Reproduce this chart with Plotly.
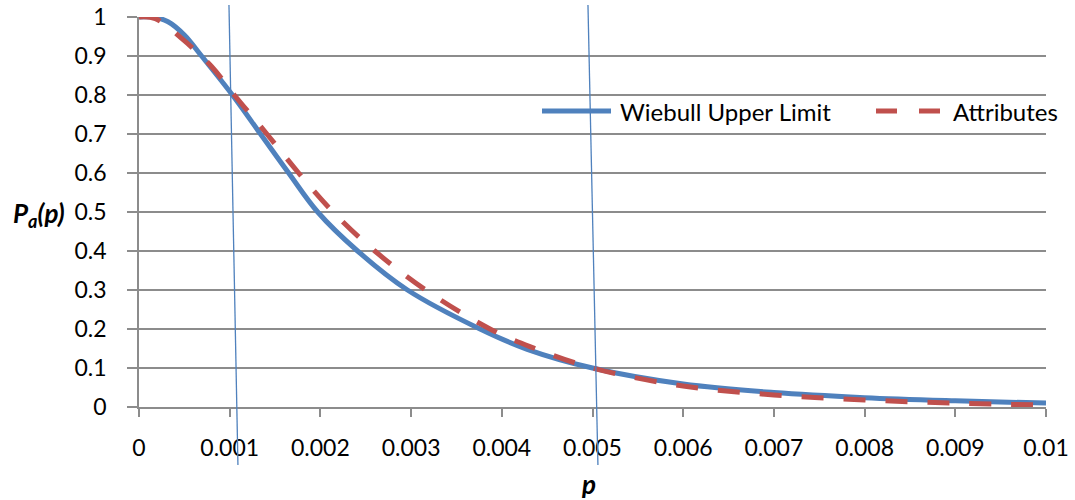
import plotly.graph_objects as go

# ---- data ----
weibull_p = [0, 0.00015, 0.00032, 0.0005, 0.00069, 0.00103, 0.00134, 0.00165, 0.00197,
             0.00241, 0.00296, 0.00376, 0.00428, 0.005, 0.006, 0.007, 0.008, 0.009, 0.01]
weibull_pa = [1.0, 1.0, 0.988, 0.954, 0.9, 0.8, 0.7, 0.6, 0.5,
              0.4, 0.3, 0.2, 0.148, 0.1, 0.059, 0.037, 0.024, 0.016, 0.01]

attr_p = [0, 0.00018, 0.00047, 0.0008, 0.00105, 0.00141, 0.00176, 0.00214, 0.0026,
          0.00316, 0.00387, 0.00431, 0.005, 0.006, 0.007, 0.008, 0.009, 0.01]
attr_pa = [1.0, 0.996, 0.945, 0.873, 0.8, 0.7, 0.6, 0.5, 0.4,
           0.3, 0.2, 0.155, 0.1, 0.054, 0.031, 0.018, 0.01, 0.005]

# reference (slightly slanted) vertical lines: x at top and bottom of their extent
ref_line_top_x = [0.000992, 0.00495]
ref_line_bottom_x = [0.001091, 0.00506]
ref_line_top_y = 1.031
ref_line_bottom_y = -0.149

x_tickvals = [0, 0.001, 0.002, 0.003, 0.004, 0.005, 0.006, 0.007, 0.008, 0.009, 0.01]
x_ticktext = ["0", "0.001", "0.002", "0.003", "0.004", "0.005", "0.006", "0.007", "0.008", "0.009", "0.01"]
y_tickvals = [0, 0.1, 0.2, 0.3, 0.4, 0.5, 0.6, 0.7, 0.8, 0.9, 1]
y_ticktext = ["0", "0.1", "0.2", "0.3", "0.4", "0.5", "0.6", "0.7", "0.8", "0.9", "1"]

series_names = ["Wiebull Upper Limit", "Attributes"]

# ---- style ----
BLUE = "#4F81BD"
RED = "#C0504D"
GRID = "#8C8C8C"
FONT = "Lato, 'Open Sans', sans-serif"

W, H = 1075, 500
PL, PR, PT, PB = 139, 1046, 17, 407  # target plot-area pixels
L, T, R, B = PL, PT, W - PR, H - PB
PW, PH = PR - PL, PB - PT


def px_x(px):
    return (px - PL) / PW


def px_y(py):
    return (PB - py) / PH


fig = go.Figure()
fig.add_trace(go.Scatter(x=weibull_p, y=weibull_pa, mode="lines", name=series_names[0],
                         line=dict(color=BLUE, width=5, shape="spline", smoothing=1.0),
                         showlegend=False))
fig.add_trace(go.Scatter(x=attr_p, y=attr_pa, mode="lines", name=series_names[1],
                         line=dict(color=RED, width=5, dash="22px,20px", shape="spline", smoothing=1.0),
                         showlegend=False))

shapes = []
for xt, xb in zip(ref_line_top_x, ref_line_bottom_x):
    shapes.append(dict(type="line", xref="x", yref="paper", x0=xt, y0=ref_line_top_y,
                       x1=xb, y1=ref_line_bottom_y, line=dict(color=BLUE, width=1.3), layer="above"))

# manual legend
leg_y = px_y(111)
shapes.append(dict(type="line", xref="paper", yref="paper", x0=px_x(542), x1=px_x(611),
                   y0=leg_y, y1=leg_y, line=dict(color=BLUE, width=5)))
shapes.append(dict(type="line", xref="paper", yref="paper", x0=px_x(876), x1=px_x(940),
                   y0=leg_y, y1=leg_y, line=dict(color=RED, width=5, dash="21px,22px")))

annotations = [
    dict(xref="paper", yref="paper", x=px_x(618), y=leg_y, text=series_names[0], showarrow=False,
         xanchor="left", yanchor="middle", font=dict(family=FONT, size=24, color="black")),
    dict(xref="paper", yref="paper", x=px_x(951), y=leg_y, text=series_names[1], showarrow=False,
         xanchor="left", yanchor="middle", font=dict(family=FONT, size=24, color="black")),
    dict(xref="paper", yref="paper", x=px_x(39), y=px_y(214), text="<b><i>P<sub>a</sub>(p)</i></b>",
         showarrow=False, xanchor="center", yanchor="middle", font=dict(family=FONT, size=26, color="black")),
    dict(xref="paper", yref="paper", x=px_x(588), y=px_y(484), text="<b><i>p</i></b>",
         showarrow=False, xanchor="center", yanchor="middle", font=dict(family=FONT, size=26, color="black")),
]

fig.update_layout(
    width=W, height=H,
    margin=dict(l=L, r=R, t=T, b=B, pad=0, autoexpand=False),
    paper_bgcolor="white", plot_bgcolor="white",
    font=dict(family=FONT, size=23, color="black"),
    shapes=shapes, annotations=annotations,
    showlegend=False,
)
fig.update_xaxes(range=[0, 0.01], tickvals=x_tickvals, ticktext=x_ticktext, automargin=False,
                 showgrid=False, zeroline=False, showline=True, linecolor=GRID, linewidth=1.5,
                 ticks="outside", ticklen=8, tickwidth=1.5, tickcolor=GRID, ticklabelstandoff=12,
                 ticklabeloverflow="allow",
                 tickfont=dict(family=FONT, size=23, color="black"))
fig.update_yaxes(range=[0, 1], tickvals=y_tickvals, ticktext=y_ticktext, automargin=False,
                 showgrid=True, gridcolor=GRID, gridwidth=1.5, zeroline=False,
                 showline=True, linecolor=GRID, linewidth=1.5,
                 ticks="outside", ticklen=10, tickwidth=1.5, tickcolor=GRID, ticklabelstandoff=16,
                 ticklabeloverflow="allow",
                 tickfont=dict(family=FONT, size=23, color="black"))

fig.write_html("out.html", config={"displayModeBar": False},
               post_script="document.body.style.margin='0px';")
